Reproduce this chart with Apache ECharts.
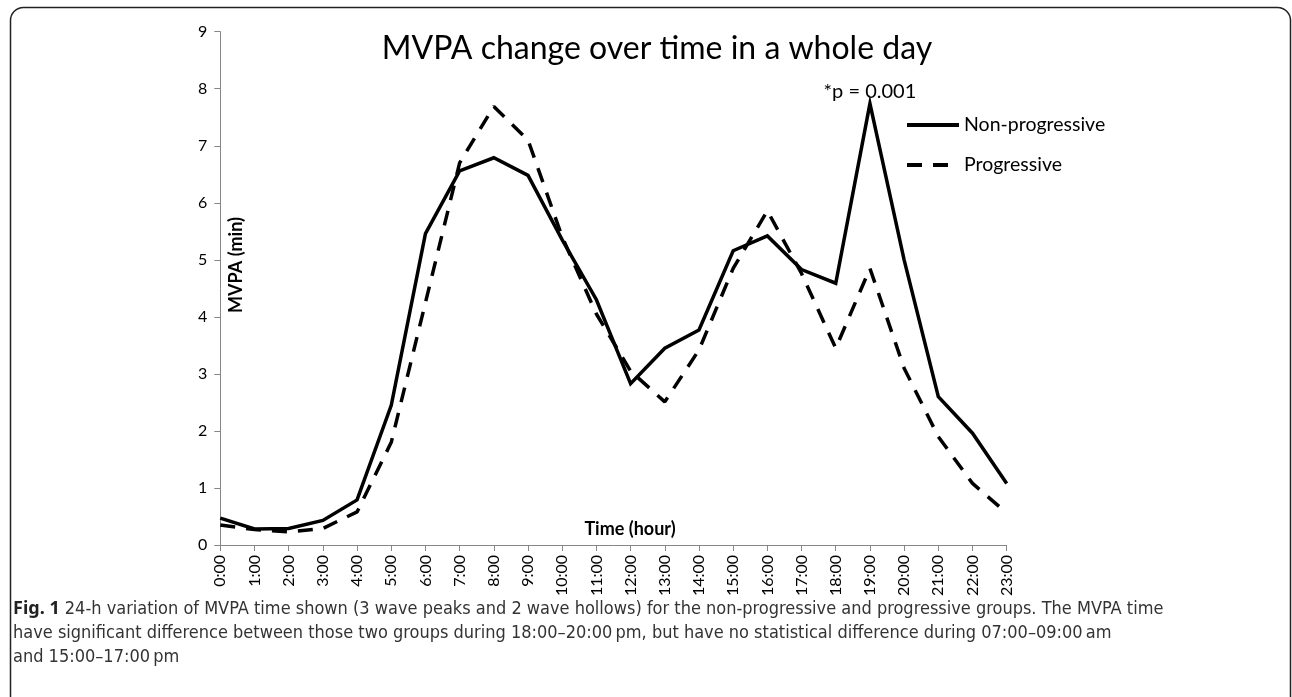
<!DOCTYPE html>
<html>
<head>
<meta charset="utf-8">
<script src="https://cdn.jsdelivr.net/npm/echarts@6/dist/echarts.min.js"></script>
<style>
  html, body { margin: 0; padding: 0; background: #fff; }
  #chart { width: 1292px; height: 697px; }
</style>
</head>
<body>
<div id="chart"></div>
<script>
// ---- data ----
var hours = ['0:00','1:00','2:00','3:00','4:00','5:00','6:00','7:00','8:00','9:00','10:00','11:00',
             '12:00','13:00','14:00','15:00','16:00','17:00','18:00','19:00','20:00','21:00','22:00','23:00'];
var nonProgressive = [0.47, 0.28, 0.29, 0.43, 0.79, 2.45, 5.46, 6.56, 6.79, 6.48, 5.35, 4.30,
                      2.83, 3.45, 3.77, 5.16, 5.42, 4.83, 4.59, 7.74, 5.00, 2.60, 1.96, 1.08];
var progressive    = [0.35, 0.27, 0.23, 0.29, 0.58, 1.80, 4.25, 6.70, 7.69, 7.10, 5.40, 4.05,
                      3.05, 2.51, 3.42, 4.85, 5.86, 4.76, 3.45, 4.85, 3.10, 1.90, 1.08, 0.56];
var yTicks = [0, 1, 2, 3, 4, 5, 6, 7, 8, 9];
var seriesNames = ['Non-progressive', 'Progressive'];
var pAnnotation = { index: 19, text: '*p = 0.001' };
var titleText = 'MVPA change over time in a whole day';
var yName = 'MVPA (min)';
var xName = 'Time (hour)';
var captionLines = [
  ['Fig. 1', ' 24-h variation of MVPA time shown (3 wave peaks and 2 wave hollows) for the non-progressive and progressive groups. The MVPA time'],
  ['', 'have significant difference between those two groups during 18:00\u201320:00\u2009pm, but have no statistical difference during 07:00\u201309:00\u2009am'],
  ['', 'and 15:00\u201317:00\u2009pm']
];

var FONT = 'Lato, Carlito, "Open Sans", sans-serif';
var CAPFONT = '"Liberation Sans Narrow", "DejaVu Sans Condensed", "Noto Sans", sans-serif';

var chart = echarts.init(document.getElementById('chart'), null, { renderer: 'canvas' });

var graphics = [
  { type: 'rect', shape: { x: 10.5, y: 7.5, width: 1280, height: 760, r: 13 },
    style: { fill: 'none', stroke: '#222', lineWidth: 1.5 }, silent: true, z: 0 },
  { type: 'text', x: 236, y: 265, rotation: Math.PI / 2,
    style: { text: yName, fontFamily: FONT, fontWeight: 'bold', fontSize: 18, fill: '#000',
      align: 'center', verticalAlign: 'middle' } },
  { type: 'text', x: 630, y: 529,
    style: { text: xName, fontFamily: FONT, fontWeight: 'bold', fontSize: 18, fill: '#000',
      align: 'center', verticalAlign: 'middle' } }
];
captionLines.forEach(function (ln, i) {
  graphics.push({
    type: 'text', x: 13, y: 609 + i * 24,
    style: {
      text: (ln[0] ? '{b|' + ln[0] + '}' : '') + '{n|' + ln[1] + '}',
      verticalAlign: 'middle',
      rich: {
        b: { fontFamily: '"Noto Sans", "Open Sans", sans-serif', fontWeight: 'bold', fontSize: 18, fill: '#222' },
        n: { fontFamily: CAPFONT, fontSize: 18, fill: '#333' }
      }
    }
  });
});

var option = {
  backgroundColor: '#fff',
  animation: false,
  title: {
    text: titleText, left: 652, top: 28, textAlign: 'center',
    textStyle: { fontFamily: FONT, fontSize: 32, fontWeight: 'normal', color: '#000' }
  },
  legend: {
    orient: 'vertical', left: 900, top: 110, itemGap: 20,
    itemWidth: 52, itemHeight: 20,
    data: seriesNames,
    itemStyle: { opacity: 0 },
    lineStyle: { width: 4 },
    textStyle: { fontFamily: FONT, fontSize: 19.5, color: '#000' }
  },
  grid: { left: 220.3, right: 285.3, top: 31.7, bottom: 152, containLabel: false },
  xAxis: {
    type: 'category', data: hours, boundaryGap: false,
    axisLine: { lineStyle: { color: '#868686', width: 1 } },
    axisTick: { show: true, alignWithLabel: true, interval: 0, length: 6, lineStyle: { color: '#868686' } },
    axisLabel: { interval: 0, rotate: 90, margin: 10, fontFamily: FONT, fontSize: 16, color: '#000' },
    splitLine: { show: false }
  },
  yAxis: {
    type: 'value', min: yTicks[0], max: yTicks[yTicks.length - 1], interval: 1,
    axisLine: { show: true, lineStyle: { color: '#868686', width: 1 } },
    axisTick: { show: true, inside: false, length: 6, lineStyle: { color: '#868686' } },
    axisLabel: { margin: 13, fontFamily: FONT, fontSize: 16, color: '#000' },
    splitLine: { show: false }
  },
  series: [
    {
      name: seriesNames[0], type: 'line', data: nonProgressive, symbol: 'none',
      lineStyle: { color: '#000', width: 3.5, type: 'solid', join: 'miter' },
      itemStyle: { color: '#000' }, z: 3,
      markPoint: {
        symbol: 'circle', symbolSize: 1, itemStyle: { color: 'rgba(0,0,0,0)' },
        label: { show: true, position: 'top', distance: 2, formatter: pAnnotation.text,
          fontFamily: FONT, fontSize: 20, color: '#000' },
        data: [{ coord: [hours[pAnnotation.index], nonProgressive[pAnnotation.index]] }]
      }
    },
    {
      name: seriesNames[1], type: 'line', data: progressive, symbol: 'none',
      lineStyle: { color: '#000', width: 3.5, type: [15, 11], cap: 'butt' },
      itemStyle: { color: '#000' }, z: 2
    }
  ],
  graphic: graphics
};
chart.setOption(option);
</script>
</body>
</html>
